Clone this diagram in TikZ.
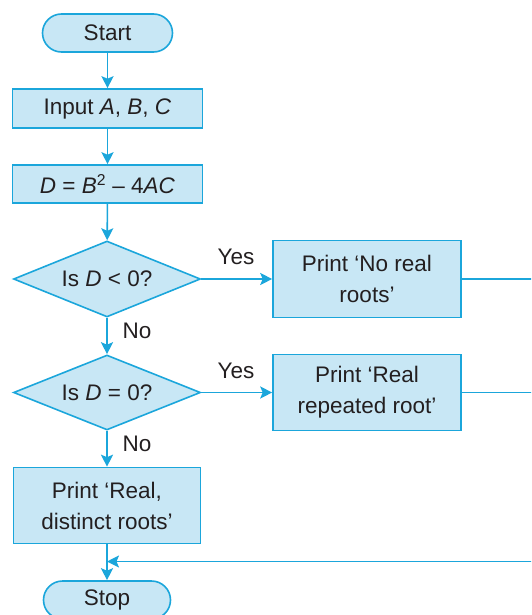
\documentclass[tikz,border=0pt]{standalone}
\usepackage{fontspec}
\setmainfont{Liberation Sans}
\usetikzlibrary{shapes.geometric,arrows.meta}
\definecolor{edgeblue}{HTML}{1BA6DB}
\definecolor{fillblue}{HTML}{C8E7F5}
\definecolor{txt}{HTML}{231F20}
\tikzset{
  base/.style={draw=edgeblue, fill=fillblue, line width=1.6pt, text=txt, inner sep=0pt, align=center,
    font=\fontsize{22.5}{31}\selectfont},
  term/.style={base, rectangle, rounded corners=19pt},
  procbox/.style={base, rectangle},
  decide/.style={base, diamond, shape aspect=2.46},
  conn/.style={draw=edgeblue, line width=1.6pt},
  arr/.style={conn, -{Stealth[length=12pt,width=12pt,inset=2.5pt]}},
  lbl/.style={text=txt, inner sep=0pt, font=\fontsize{22.5}{31}\selectfont},
}
\begin{document}
\begin{tikzpicture}[x=1pt,y=-1pt]
\useasboundingbox (0,0) rectangle (531,615);
\clip (0,0) rectangle (531,615);
\node[term, minimum width=130pt, minimum height=38pt] (start) at (107.5,33) {Start};
\node[procbox, minimum width=190pt, minimum height=39pt] (input) at (107.5,108.5) {Input \textit{A}, \textit{B}, \textit{C}};
\node[procbox, minimum width=190pt, minimum height=38pt] (dcalc) at (107.5,184) {\textit{D} = \textit{B}\textsuperscript{2} – 4\textit{AC}};
\node[decide, minimum width=187pt, minimum height=76pt] (dia1) at (107,279) {Is \textit{D} < 0?};
\node[procbox, minimum width=188pt, minimum height=77pt] (box1) at (367,279) {Print ‘No real\\roots’};
\node[decide, minimum width=187pt, minimum height=75pt] (dia2) at (107,392.5) {Is \textit{D} = 0?};
\node[procbox, minimum width=188pt, minimum height=76pt] (box2) at (367,392.5) {Print ‘Real\\repeated root’};
\node[procbox, minimum width=187pt, minimum height=76pt] (box3) at (107,505.5) {Print ‘Real,\\distinct roots’};
\node[term, minimum width=127pt, minimum height=38pt] (stop) at (107,600) {Stop};
\node[lbl] (yes1) at (236,257) {Yes};
\node[lbl] (no1) at (137,331) {No};
\node[lbl] (yes2) at (236,371) {Yes};
\node[lbl] (no2) at (137,444) {No};
\coordinate (r1) at (560,279);
\coordinate (r2) at (560,392.5);
\coordinate (join) at (107,561.5);
\draw[arr] (start) -- (input);
\draw[arr] (input) -- (dcalc);
\draw[arr] (dcalc) -- (dia1);
\draw[arr] (dia1.east) -- (box1.west);
\draw[arr] (dia1.south) -- (dia2.north);
\draw[arr] (dia2.east) -- (box2.west);
\draw[arr] (dia2.south) -- (box3.north);
\draw[arr] (box3.south) -- (stop.north);
\draw[arr] (box1.east) -- (r1) |- (join);
\draw[conn] (box2.east) -- (r2);
\end{tikzpicture}
\end{document}
